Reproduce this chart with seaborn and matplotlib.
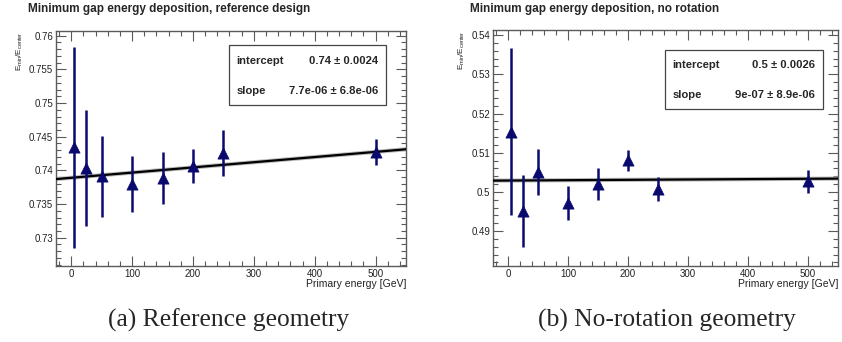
import numpy as np
import pandas as pd
import matplotlib
matplotlib.use("Agg")
import matplotlib.pyplot as plt
import seaborn as sns
from matplotlib.ticker import MultipleLocator

# ---------------- data ----------------
energy = [5, 25, 50, 100, 150, 200, 250, 500]

ref_ratio = [0.7434, 0.7403, 0.7391, 0.7380, 0.7389, 0.7407, 0.7426, 0.7427]
ref_err = [0.0149, 0.0086, 0.0060, 0.0042, 0.0039, 0.0025, 0.0034, 0.0019]
ref_intercept = 0.7389
ref_slope = 7.7e-06
ref_box = ["0.74 \u00b1 0.0024", "7.7e-06 \u00b1 6.8e-06"]

norot_ratio = [0.5154, 0.4951, 0.5051, 0.4971, 0.5020, 0.5081, 0.5007, 0.5027]
norot_err = [0.0212, 0.0092, 0.0059, 0.0043, 0.0041, 0.0027, 0.0031, 0.0030]
norot_intercept = 0.5029
norot_slope = 9e-07
norot_box = ["0.5 \u00b1 0.0026", "9e-07 \u00b1 8.9e-06"]

titles = ["Minimum gap energy deposition, reference design",
          "Minimum gap energy deposition, no rotation"]
captions = ["(a) Reference geometry", "(b) No-rotation geometry"]
xlabel = "Primary energy [GeV]"
ylabel = r"E$_{min}$/E$_{center}$"

sns.set_theme(style="ticks")
plt.rcParams["font.family"] = ["Liberation Sans", "DejaVu Sans"]
plt.rcParams["mathtext.fontset"] = "custom"
plt.rcParams["mathtext.rm"] = "Liberation Sans"
plt.rcParams["mathtext.it"] = "Liberation Sans"

W, H = 842, 342
fig = plt.figure(figsize=(W / 100, H / 100), dpi=100)

navy = "#0a0a6e"
frame = "#5a5a5a"

panels = [
    dict(ratio=ref_ratio, err=ref_err, b=ref_intercept, m=ref_slope, box=ref_box,
         rect=[56, 31, 406, 266], ylim=(0.7258, 0.7607), major=0.005, minor=0.001,
         box_rect=(229, 45, 386, 105), title_x=28, cap_x=229),
    dict(ratio=norot_ratio, err=norot_err, b=norot_intercept, m=norot_slope, box=norot_box,
         rect=[493, 30, 838, 266], ylim=(0.4811, 0.5413), major=0.01, minor=0.002,
         box_rect=(665, 50, 823, 109), title_x=470, cap_x=667),
]

for i, p in enumerate(panels):
    x0, y0, x1, y1 = p["rect"]
    ax = fig.add_axes([x0 / W, 1 - y1 / H, (x1 - x0) / W, (y1 - y0) / H])
    df = pd.DataFrame({"energy": energy, "ratio": p["ratio"], "err": p["err"]})

    # fit line across the full x range
    xs = np.array([-25, 550])
    fit = pd.DataFrame({"energy": xs, "ratio": p["b"] + p["m"] * xs})
    sns.lineplot(data=fit, x="energy", y="ratio", ax=ax, color="#bbbbbb", lw=3.0, zorder=2)
    sns.lineplot(data=fit, x="energy", y="ratio", ax=ax, color="black", lw=1.6, zorder=3)

    ax.errorbar(df["energy"], df["ratio"], yerr=df["err"], fmt="none",
                ecolor=navy, elinewidth=1.8, capsize=0, zorder=4)
    sns.scatterplot(data=df, x="energy", y="ratio", ax=ax, marker="^", s=65,
                    color=navy, edgecolor=navy, linewidth=0.5, zorder=5)

    ax.set_xlim(-25, 550)
    ax.set_ylim(*p["ylim"])
    ax.xaxis.set_major_locator(MultipleLocator(100))
    ax.xaxis.set_minor_locator(MultipleLocator(20))
    ax.yaxis.set_major_locator(MultipleLocator(p["major"]))
    ax.yaxis.set_minor_locator(MultipleLocator(p["minor"]))
    ax.tick_params(which="both", direction="in", top=True, right=True,
                   color=frame, labelsize=7, labelcolor="#222222", width=0.8, pad=2)
    ax.tick_params(which="major", axis="x", length=7)
    ax.tick_params(which="minor", axis="x", length=3.5)
    ax.tick_params(which="major", axis="y", length=7)
    ax.tick_params(which="minor", axis="y", length=3.5)
    ax.yaxis.set_major_formatter(matplotlib.ticker.FuncFormatter(lambda v, _: f"{v:g}"))
    for s in ax.spines.values():
        s.set_visible(True)
        s.set_color(frame)
        s.set_linewidth(1.0)

    ax.set_xlabel(xlabel, fontsize=7.5, loc="right", labelpad=0, color="#222222")
    ax.set_ylabel(ylabel, fontsize=5.8, loc="top", labelpad=3, color="#222222")

    # stats box
    bx0, by0, bx1, by1 = p["box_rect"]
    rect = plt.Rectangle((bx0 / W, 1 - by1 / H), (bx1 - bx0) / W, (by1 - by0) / H,
                         transform=fig.transFigure, fill=True, facecolor="white",
                         edgecolor="#444444", lw=0.9, zorder=10)
    fig.add_artist(rect)
    rows = [("intercept", p["box"][0]), ("slope", p["box"][1])]
    for k, (lab, val) in enumerate(rows):
        ty = by0 + 15.5 + k * 30
        fig.text((bx0 + 7.5) / W, 1 - ty / H, lab, fontsize=8.1, fontweight="bold",
                 ha="left", va="center", zorder=11)
        fig.text((bx1 - 8) / W, 1 - ty / H, val, fontsize=8.1, fontweight="bold",
                 ha="right", va="center", zorder=11)

    fig.text(p["title_x"] / W, 1 - 9 / H, titles[i], fontsize=8.5, fontweight="bold",
             ha="left", va="center")
    fig.text(p["cap_x"] / W, 1 - 320 / H, captions[i], fontsize=18.4,
             family=["Liberation Serif", "DejaVu Serif"], ha="center", va="center")

fig.savefig("out.png", dpi=100)
